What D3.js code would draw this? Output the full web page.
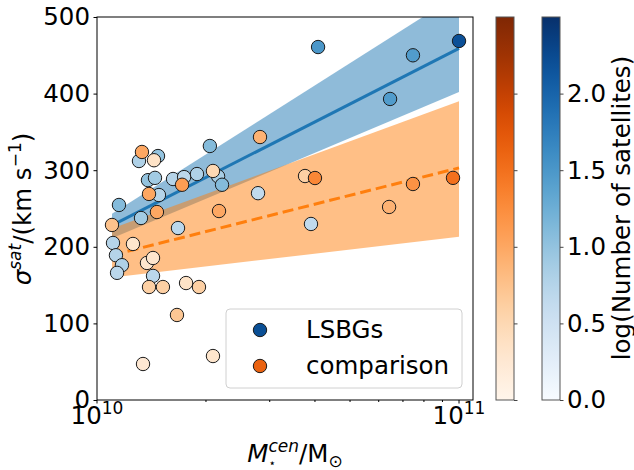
<!DOCTYPE html>
<html>
<head>
<meta charset="utf-8">
<script src="https://cdn.jsdelivr.net/npm/d3@7"></script>
<style>
  body { margin: 0; background: #fff; }
  text { font-family: "DejaVu Sans", sans-serif; fill: #000; }
</style>
</head>
<body>
<div id="chart"></div>
<script>
// LSBG hosts: stellar mass (1e10 Msun), sigma_sat (km/s), log(N sat)
var lsbgMass = [10.0, 4.08, 7.46, 6.45, 2.05, 1.474, 1.306, 1.383, 1.446, 1.622, 1.74, 1.889, 2.16,
    2.215, 1.483, 1.15, 1.323, 2.785, 1.674, 3.90, 1.107, 1.128, 1.172, 1.136, 1.428];
var lsbgSigma = [468.7, 460.8, 450, 393, 331.6, 318.5, 312, 287, 290, 288.5, 291, 295, 292,
    281, 267.6, 254.6, 237.6, 270, 224.5, 229.8, 205, 189, 176, 166, 162];
var lsbgLogN = [2.2, 1.5, 1.45, 1.45, 1.1, 1.0, 0.8, 1.0, 0.9, 0.75, 0.7, 0.8, 0.85,
    1.1, 0.75, 1.1, 0.9, 0.65, 0.7, 0.65, 0.75, 0.75, 0.8, 0.7, 0.7];

// comparison hosts
var compMass = [1.331, 1.437, 1.392, 1.718, 2.091, 1.464, 2.173, 1.10, 2.82, 1.257, 1.374, 1.428,
    1.392, 1.521, 1.762, 1.913, 1.663, 1.34, 2.091, 3.755, 4.0, 7.46, 9.625, 6.41];
var compSigma = [323.8, 313, 269, 281, 299, 245.4, 246.7, 228.5, 343.3, 203.7, 178.9, 185.4,
    147.5, 147.5, 152.7, 147.5, 111, 47, 57.4, 292.4, 289.8, 282, 290, 252];
var compLogN = [1.0, 0.35, 1.0, 1.1, 0.5, 1.0, 1.0, 0.75, 0.9, 0.3, 0.3, 0.3,
    0.6, 0.6, 0.35, 0.6, 0.7, 0.25, 0.3, 0.6, 1.3, 1.2, 1.5, 0.9];

// fits and their bands, at the two ends of the mass range
var fitMass = [1.1, 10.0];
var lsbgFit = [228, 459];
var lsbgLow = [211, 402];
var lsbgHigh = [243, 530];
var compFit = [189, 303];
var compLow = [160, 213];
var compHigh = [224, 390];

var yTicks = [0, 100, 200, 300, 400, 500];
var cbarTicks = [0.0, 0.5, 1.0, 1.5, 2.0];
var cbarMax = 2.5;

var FS = 24.5, FS_SUP = 17;

var W = 634, H = 470;
var margin = { left: 97, top: 17, right: 161, bottom: 70 };
var width = W - margin.left - margin.right,
    height = H - margin.top - margin.bottom;

var svg = d3.select("#chart").append("svg")
    .attr("width", W)
    .attr("height", H);

var x = d3.scaleLog()
    .domain([1e10, 1.093e11])
    .range([0, width]);
var y = d3.scaleLinear()
    .domain([0, 500])
    .range([height, 0]);

var blues = function(v) { return d3.interpolateBlues(Math.min(v / cbarMax, 1)); };
var oranges = function(v) { return d3.interpolateOranges(Math.min(v / cbarMax, 1)); };

var g = svg.append("g")
    .attr("transform", "translate(" + margin.left + "," + margin.top + ")");

g.append("defs").append("clipPath")
    .attr("id", "clip")
    .append("rect")
    .attr("width", width)
    .attr("height", height);

function pts(lo, mid, hi) {
    return fitMass.map(function(m, i) {
        return { m: m * 1e10, lo: lo ? lo[i] : 0, v: mid ? mid[i] : 0, hi: hi ? hi[i] : 0 };
    });
}

var area = d3.area()
    .x(function(d) { return x(d.m); })
    .y0(function(d) { return y(d.lo); })
    .y1(function(d) { return y(d.hi); });
var line = d3.line()
    .x(function(d) { return x(d.m); })
    .y(function(d) { return y(d.v); });

var plot = g.append("g").attr("clip-path", "url(#clip)");

plot.append("path")
    .attr("d", area(pts(lsbgLow, null, lsbgHigh)))
    .style("fill", "#1f77b4")
    .style("opacity", 0.5);
plot.append("path")
    .attr("d", line(pts(null, lsbgFit, null)))
    .style("fill", "none")
    .style("stroke", "#1f77b4")
    .style("stroke-width", 3);
plot.append("path")
    .attr("d", area(pts(compLow, null, compHigh)))
    .style("fill", "#ff7f0e")
    .style("opacity", 0.5);
plot.append("path")
    .attr("d", line(pts(null, compFit, null)))
    .style("fill", "none")
    .style("stroke", "#ff7f0e")
    .style("stroke-width", 3)
    .style("stroke-dasharray", "11,5");

var lsbgData = lsbgMass.map(function(m, i) {
    return { m: m * 1e10, s: lsbgSigma[i], c: blues(lsbgLogN[i]) };
});
var compData = compMass.map(function(m, i) {
    return { m: m * 1e10, s: compSigma[i], c: oranges(compLogN[i]) };
});

[lsbgData, compData].forEach(function(set) {
    g.append("g").selectAll("circle")
        .data(set)
        .enter().append("circle")
        .attr("cx", function(d) { return x(d.m); })
        .attr("cy", function(d) { return y(d.s); })
        .attr("r", 6.7)
        .style("fill", function(d) { return d.c; })
        .style("stroke", "#1a1a1a")
        .style("stroke-width", 1);
});

// frame
g.append("rect")
    .attr("width", width)
    .attr("height", height)
    .style("fill", "none")
    .style("stroke", "#000")
    .style("stroke-width", 1);

// y axis
var yAxis = d3.axisLeft(y)
    .tickValues(yTicks)
    .tickSize(3.5)
    .tickPadding(3.5);
var yAxisElem = g.append("g").call(yAxis);
yAxisElem.select(".domain").remove();
yAxisElem.selectAll("text")
    .attr("font-size", FS + "px")
    .attr("font-family", "DejaVu Sans");

// x axis ticks
var major = [1e10, 1e11];
var minor = d3.range(2, 10).map(function(k) { return k * 1e10; });
var xG = g.append("g").attr("transform", "translate(0," + height + ")");
xG.selectAll(".major").data(major).enter().append("line")
    .attr("x1", x).attr("x2", x)
    .attr("y1", 0).attr("y2", 3.5)
    .style("stroke", "#000");
xG.selectAll(".minor").data(minor).enter().append("line")
    .attr("x1", x).attr("x2", x)
    .attr("y1", 0).attr("y2", 2)
    .style("stroke", "#000");

// helper: lay out math-like pieces side by side
function mathText(parent, pieces) {
    var t = parent.append("text");
    var cur = 0, maxX = 0;
    pieces.forEach(function(p) {
        var ts = t.append("tspan")
            .attr("x", cur)
            .attr("y", p.dy || 0)
            .attr("font-size", (p.size || FS) + "px")
            .style("font-style", p.italic ? "italic" : "normal")
            .text(p.text);
        var w = ts.node().getComputedTextLength();
        if (!p.stack) cur += w;
        maxX = Math.max(maxX, cur);
    });
    return { node: t, width: maxX };
}

major.forEach(function(m, i) {
    var lg = xG.append("g");
    var lab = mathText(lg, [
        { text: "10" },
        { text: i === 0 ? "10" : "11", size: FS_SUP, dy: -10 }
    ]);
    lg.attr("transform", "translate(" + (x(m) - lab.width / 2) + "," + 24 + ")");
});

// x label
var xl = g.append("g");
var xlab = mathText(xl, [
    { text: "M", italic: true },
    { text: "\u22C6", size: 12, dy: 5, stack: true },
    { text: "cen", italic: true, size: FS_SUP, dy: -10 },
    { text: "/M" },
    { text: "\u2299", size: FS_SUP, dy: 5 }
]);
xl.attr("transform", "translate(" + (width / 2 + 10 - xlab.width / 2) + "," + (height + 62) + ")");

// y label
var yl = svg.append("g");
var ylab = mathText(yl, [
    { text: "\u03C3", italic: true },
    { text: "sat", italic: true, size: FS_SUP, dy: -10 },
    { text: "/(km s" },
    { text: "\u22121", size: FS_SUP, dy: -10 },
    { text: ")" }
]);
yl.attr("transform", "translate(31," + (209 + ylab.width / 2) + ") rotate(-90)");

// legend
var leg = svg.append("g").attr("transform", "translate(226,309)");
leg.append("rect")
    .attr("width", 236)
    .attr("height", 79)
    .attr("rx", 4)
    .style("fill", "#fff")
    .style("fill-opacity", 0.8)
    .style("stroke", "#d0d0d0");
var legItems = [
    { name: "LSBGs", color: "#0a4f95" },
    { name: "comparison", color: "#ea6210" }
];
legItems.forEach(function(d, i) {
    leg.append("circle")
        .attr("cx", 34)
        .attr("cy", 21 + i * 36)
        .attr("r", 6.7)
        .style("fill", d.color)
        .style("stroke", "#1a1a1a");
    leg.append("text")
        .attr("x", 80)
        .attr("y", 29 + i * 36)
        .attr("font-size", FS + "px")
        .text(d.name);
});

// colorbars
var cbY = d3.scaleLinear().domain([0, cbarMax]).range([400, 17]);
var defs = svg.append("defs");
function gradient(id, interp) {
    var gr = defs.append("linearGradient")
        .attr("id", id)
        .attr("x1", 0).attr("y1", 1)
        .attr("x2", 0).attr("y2", 0);
    d3.range(0, 21).forEach(function(k) {
        gr.append("stop")
            .attr("offset", (k / 20))
            .attr("stop-color", interp(k / 20));
    });
}
gradient("gOr", d3.interpolateOranges);
gradient("gBl", d3.interpolateBlues);

[{ x: 496, id: "gOr", labels: false }, { x: 542, id: "gBl", labels: true }].forEach(function(cb) {
    var cg = svg.append("g");
    cg.append("rect")
        .attr("x", cb.x)
        .attr("y", cbY(cbarMax))
        .attr("width", 18)
        .attr("height", cbY(0) - cbY(cbarMax))
        .style("fill", "url(#" + cb.id + ")")
        .style("stroke", "#555")
        .style("stroke-width", 1);
    var ax = d3.axisRight(cbY)
        .tickValues(cbarTicks)
        .tickSize(3.5)
        .tickPadding(3.5)
        .tickFormat(cb.labels ? d3.format(".1f") : "");
    var axEl = cg.append("g")
        .attr("transform", "translate(" + (cb.x + 18) + ",0)")
        .call(ax);
    axEl.select(".domain").remove();
    axEl.selectAll("line").style("stroke", "#444");
    axEl.selectAll("text")
        .attr("font-size", FS + "px")
        .attr("font-family", "DejaVu Sans");
});

svg.append("text")
    .attr("transform", "translate(621,208) rotate(-90)")
    .attr("text-anchor", "middle")
    .attr("dominant-baseline", "central")
    .attr("font-size", FS + "px")
    .text("log(Number of satellites)");
</script>
</body>
</html>
